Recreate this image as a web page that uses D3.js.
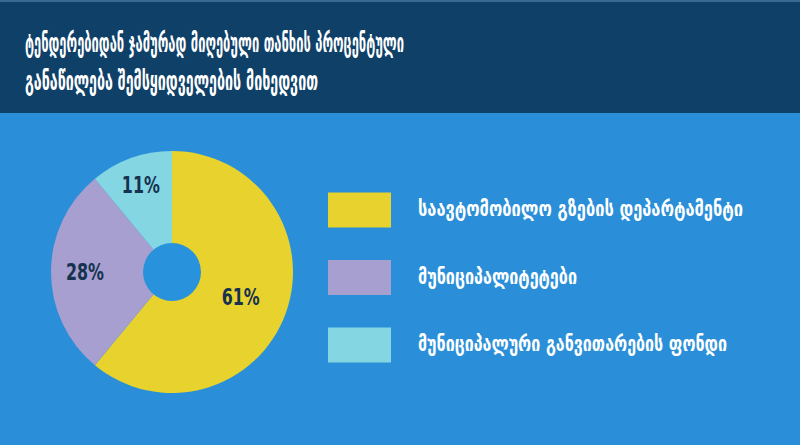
<!DOCTYPE html>
<html><head><meta charset="utf-8">
<script src="https://cdn.jsdelivr.net/npm/d3@7"></script>
<style>
html,body{margin:0;padding:0;background:#2a8fd8;}
svg{display:block;}
</style></head>
<body>
<svg id="chart" width="800" height="445"></svg>
<script>
const titleLines = ["ტენდერებიდან ჯამურად მიღებული თანხის პროცენტული", "განაწილება შემსყიდველების მიხედვით"];
const categories = ["საავტომობილო გზების დეპარტამენტი", "მუნიციპალიტეტები", "მუნიციპალური განვითარების ფონდი"];
const values = [61, 28, 11];
const valueLabels = ["61%", "28%", "11%"];
const colors = ["#e8d22e", "#a79fcf", "#85d6e3"];

const W = 800, H = 445;
const svg = d3.select("#chart");
svg.append("rect").attr("width", W).attr("height", H).attr("fill", "#2a8fd8");
svg.append("rect").attr("width", W).attr("height", 113).attr("fill", "#0f4068");
svg.append("rect").attr("width", W).attr("height", 2).attr("fill", "#3a6a90");

const titleFont = "'DejaVu Sans Condensed','DejaVu Sans',sans-serif";
const titleWidths = [379, 293];
svg.selectAll("text.title").data(titleLines).enter().append("text")
  .attr("class", "title")
  .attr("x", 25).attr("y", (d, i) => 52 + i * 38)
  .attr("fill", "#ffffff")
  .attr("font-family", titleFont).attr("font-weight", "bold").attr("font-size", 27)
  .attr("textLength", (d, i) => titleWidths[i]).attr("lengthAdjust", "spacingAndGlyphs")
  .text(d => d);

// Pie
const cx = 172, cy = 272, R = 121, r0 = 29;
const g = svg.append("g").attr("transform", `translate(${cx},${cy})`);
const pie = d3.pie().sort(null).value(d => d);
const arcs = pie(values);
const arc = d3.arc().innerRadius(0).outerRadius(R);
g.selectAll("path").data(arcs).enter().append("path")
  .attr("d", arc).attr("fill", (d, i) => colors[i]);
g.append("circle").attr("r", r0).attr("fill", "#2893dc");

const labelRadii = [73, 87, 92];
g.selectAll("text.val").data(arcs).enter().append("text")
  .attr("class", "val")
  .attr("transform", (d, i) => {
    const c = d3.arc().innerRadius(labelRadii[i]).outerRadius(labelRadii[i]).centroid(d);
    return `translate(${c[0] - 19},${c[1]})`;
  })
  .attr("dominant-baseline", "central")
  .attr("fill", "#16324f")
  .attr("font-family", "'DejaVu Sans Condensed','DejaVu Sans',sans-serif")
  .attr("font-weight", "bold").attr("font-size", 23)
  .attr("textLength", 38).attr("lengthAdjust", "spacingAndGlyphs")
  .text((d, i) => valueLabels[i]);

// Legend
const legendY = d3.scalePoint().domain(categories).range([210, 345]);
const legendWidths = [325, 159, 309];
const lg = svg.append("g");
lg.selectAll("rect").data(categories).enter().append("rect")
  .attr("x", 328).attr("y", d => legendY(d) - 17.5)
  .attr("width", 63).attr("height", 35)
  .attr("fill", (d, i) => colors[i]);
lg.selectAll("text").data(categories).enter().append("text")
  .attr("x", 418).attr("y", d => legendY(d) + 6)
  .attr("fill", "#ffffff")
  .attr("font-family", titleFont).attr("font-weight", "bold").attr("font-size", 21)
  .attr("textLength", (d, i) => legendWidths[i]).attr("lengthAdjust", "spacingAndGlyphs")
  .text(d => d);
</script>
</body></html>
